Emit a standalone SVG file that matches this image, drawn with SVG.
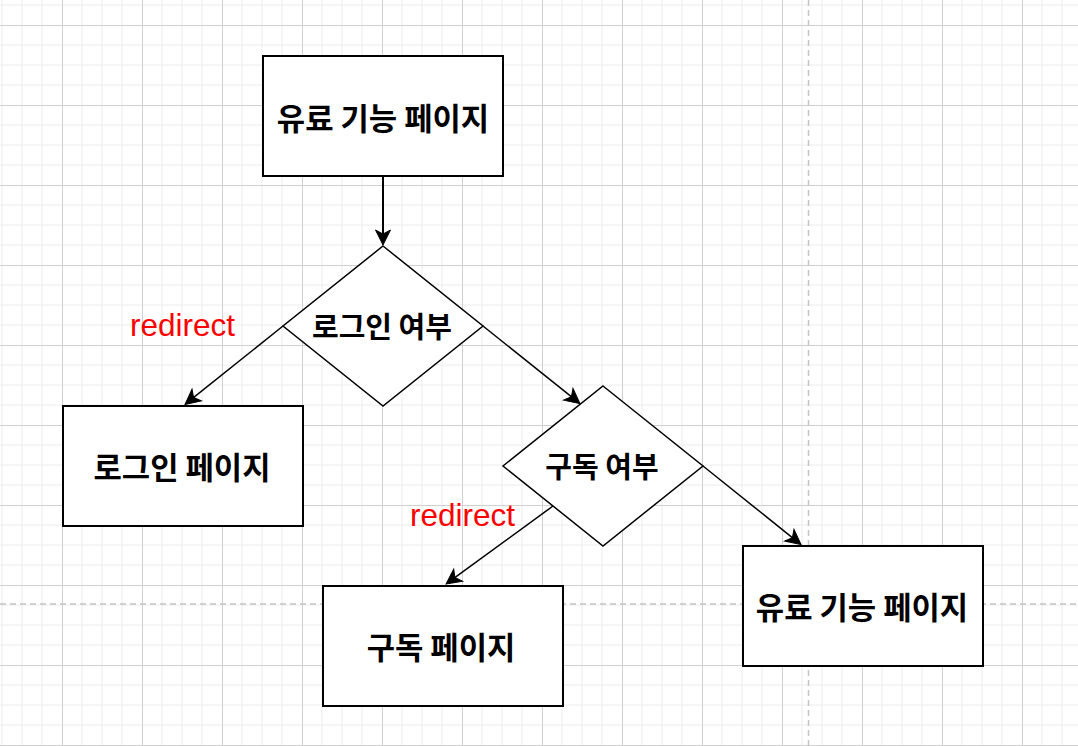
<svg xmlns="http://www.w3.org/2000/svg" width="1078" height="746" viewBox="0 0 1078 746">
<defs>
<style>
.minor{stroke:#ececec;stroke-width:1;fill:none}
.major{stroke:#d0d0d0;stroke-width:1;fill:none}
.guide{stroke:#c4c4c4;stroke-width:1.5;stroke-dasharray:6 4;fill:none}
.box{fill:#ffffff;stroke:#000000;stroke-width:2}
.dia{fill:#ffffff;stroke:#000000;stroke-width:1.5}
.lbl{font-family:"Noto Sans CJK KR","Noto Sans",sans-serif;font-weight:bold;fill:#000000;text-anchor:middle;dominant-baseline:central}
.lbl28{font-size:30.8px}
.lbl27{font-size:29px}
.edge{stroke:#000000;stroke-width:1.5;fill:none;marker-end:url(#arrow)}
.red{font-family:"Liberation Sans",Arial,sans-serif;font-size:31.5px;fill:#ff0000}
</style>
<marker id="arrow" viewBox="-8 -10 20 20" refX="0" refY="0" markerWidth="20" markerHeight="20" markerUnits="userSpaceOnUse" orient="auto">
<path d="M10,0 L-5,-7.5 L-1,0 L-5,7.5 Z" fill="#000000" stroke="#000000" stroke-width="1" stroke-linejoin="miter"/>
</marker>
</defs>
<rect x="0" y="0" width="1078" height="746" fill="#ffffff"/>
<g id="grid">
<path class="minor" d="M2,0V746M22,0V746M42,0V746M82,0V746M102,0V746M122,0V746M162,0V746M182,0V746M202,0V746M242,0V746M262,0V746M282,0V746M322,0V746M342,0V746M362,0V746M402,0V746M422,0V746M442,0V746M482,0V746M502,0V746M522,0V746M562,0V746M582,0V746M602,0V746M642,0V746M662,0V746M682,0V746M722,0V746M742,0V746M762,0V746M802,0V746M822,0V746M842,0V746M882,0V746M902,0V746M922,0V746M962,0V746M982,0V746M1002,0V746M1042,0V746M1062,0V746"/>
<path class="minor" d="M0,5H1078M0,45H1078M0,65H1078M0,85H1078M0,125H1078M0,145H1078M0,165H1078M0,205H1078M0,225H1078M0,245H1078M0,285H1078M0,305H1078M0,325H1078M0,365H1078M0,385H1078M0,405H1078M0,445H1078M0,465H1078M0,485H1078M0,525H1078M0,545H1078M0,565H1078M0,605H1078M0,625H1078M0,645H1078M0,685H1078M0,705H1078M0,725H1078"/>
<path class="major" d="M62.5,0V746M142.5,0V746M222.5,0V746M302.5,0V746M382.5,0V746M462.5,0V746M542.5,0V746M622.5,0V746M702.5,0V746M782.5,0V746M862.5,0V746M942.5,0V746M1022.5,0V746"/>
<path class="major" d="M0,25.5H1078M0,105.5H1078M0,185.5H1078M0,265.5H1078M0,345.5H1078M0,425.5H1078M0,505.5H1078M0,585.5H1078M0,665.5H1078M0,745.5H1078"/>
<path class="guide" d="M808.5,0V746M0,604H1078"/>
</g>
<g id="connectors">
<path class="edge" style="stroke-width:2" d="M383,176L383,235"/>
<path class="edge" d="M283,326L192.8,398.2"/>
<path class="edge" d="M483,326L572.2,397.4"/>
<path class="edge" d="M703,466L793.2,538.3"/>
<path class="edge" d="M553,506L454.1,578.1"/>
</g>
<g id="node-paid-top">
<rect class="box" x="263" y="56" width="240" height="120"/>
<text class="lbl lbl28" x="383" y="116">유료 기능 페이지</text>
</g>
<g id="node-login-check">
<polygon class="dia" points="383,246 483,326 383,406 283,326"/>
<text class="lbl lbl27" x="382" y="325">로그인 여부</text>
</g>
<g id="node-login-page">
<rect class="box" x="63" y="406" width="240" height="120"/>
<text class="lbl lbl28" x="182" y="465">로그인 페이지</text>
</g>
<g id="node-sub-check">
<polygon class="dia" points="603,386 703,466 603,546 503,466"/>
<text class="lbl lbl27" x="602" y="465">구독 여부</text>
</g>
<g id="node-sub-page">
<rect class="box" x="323" y="586" width="240" height="120"/>
<text class="lbl lbl28" x="441" y="645">구독 페이지</text>
</g>
<g id="node-paid-bottom">
<rect class="box" x="743" y="546" width="240" height="120"/>
<text class="lbl lbl28" x="862" y="605">유료 기능 페이지</text>
</g>
<g id="labels">
<text class="red" x="130" y="336">redirect</text>
<text class="red" x="410" y="526">redirect</text>
</g>
</svg>
